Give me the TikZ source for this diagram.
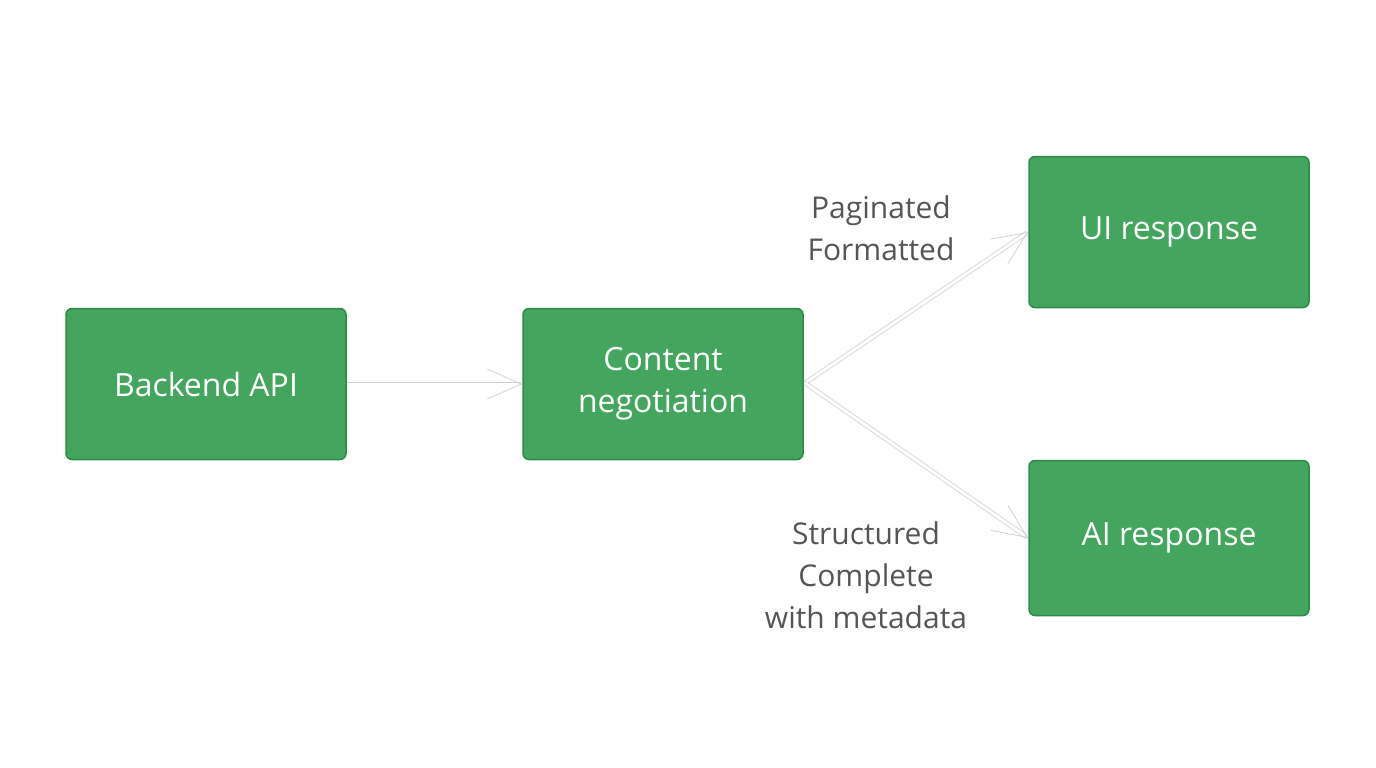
\documentclass[tikz,border=0pt]{standalone}
\usepackage{fontspec}
\setmainfont{Open Sans}
\usetikzlibrary{arrows.meta}
\definecolor{boxg}{HTML}{43A55E}
\definecolor{boxd}{HTML}{2F8A49}
\definecolor{lab}{HTML}{555555}
\begin{document}
\begin{tikzpicture}[x=1pt,y=-1pt,
  box/.style={draw=boxd,line width=1.5pt,fill=boxg,rounded corners=6pt,minimum width=280pt,minimum height=151pt,text=white,font=\fontsize{32}{42}\selectfont,align=center,inner sep=0pt},
  lbl/.style={text=lab,font=\fontsize{30}{42}\selectfont,align=center},
  arr/.style={draw=black!18,double=white,double distance=3pt,line width=0.8pt,-{Straight Barb[open,length=34pt,width=30pt,line width=0.8pt]}}]
\useasboundingbox (0,0) rectangle (1376,768);
\node[box] (b) at (206,384) {Backend API};
\node[box] (c) at (663,384) {Content\\negotiation};
\node[box] (u) at (1169,232) {UI response};
\node[box,minimum height=155pt] (a) at (1169,538) {AI response};
\coordinate (ce) at (805,383);
\draw[arr] (b.east) -- (c.west);
\draw[arr] (ce) -- (u.west);
\draw[arr] (ce) -- (a.west);
\node[lbl] (l1) at (881,228) {Paginated\\Formatted};
\node[lbl] (l2) at (866,575) {Structured\\Complete\\with metadata};
\end{tikzpicture}
\end{document}
